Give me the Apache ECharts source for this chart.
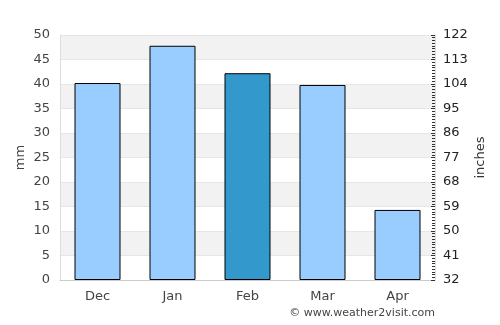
<!DOCTYPE html>
<html>
<head>
<meta charset="utf-8">
<script src="https://cdn.jsdelivr.net/npm/echarts@6/dist/echarts.min.js"></script>
<style>
  html, body { margin: 0; padding: 0; background: #fff; }
  #chart { width: 500px; height: 325px; }
</style>
</head>
<body>
<div id="chart"></div>
<script>
// rainfall by month
const months = ['Dec', 'Jan', 'Feb', 'Mar', 'Apr'];
const rainMm = [40.2, 47.8, 42.2, 39.8, 14.3];
const highlightMonth = 'Feb';
const rightLabels = [32, 41, 50, 59, 68, 77, 86, 95, 104, 113, 122];

const chart = echarts.init(document.getElementById('chart'), null, { renderer: 'canvas' });

const font = 'DejaVu Sans';

const option = {
  backgroundColor: '#fff',
  animation: false,
  grid: { left: 60, right: 65, top: 35, bottom: 45 },
  xAxis: {
    type: 'category',
    data: months,
    axisLine: { lineStyle: { color: '#ccc' } },
    axisTick: { show: false },
    axisLabel: { color: '#444', fontFamily: font, fontSize: 13, margin: 10 }
  },
  yAxis: [
    {
      type: 'value',
      min: 0, max: 50, interval: 5,
      name: 'mm',
      nameLocation: 'middle',
      nameGap: 33,
      nameMoveOverlap: false,
      nameTextStyle: { color: '#444', fontFamily: font, fontSize: 13 },
      axisLine: { show: true, lineStyle: { color: '#ddd' } },
      axisTick: { show: false },
      axisLabel: { color: '#444', fontFamily: font, fontSize: 13, margin: 10 },
      splitLine: { show: true, lineStyle: { color: '#e6e6e6' } },
      splitArea: { show: true, areaStyle: { color: ['#fff', '#f2f2f2'] } }
    },
    {
      type: 'value',
      position: 'right',
      min: 32, max: 122, interval: 9,
      name: 'inches',
      nameLocation: 'middle',
      nameGap: 39,
      nameMoveOverlap: false,
      nameRotate: 90,
      nameTextStyle: { color: '#333', fontFamily: font, fontSize: 13 },
      axisLine: { show: true, lineStyle: { color: '#ddd' } },
      axisTick: { show: true, inside: true, length: 4, lineStyle: { color: '#333' } },
      minorTick: { show: true, splitNumber: 9, length: 3, lineStyle: { color: '#333' } },
      axisLabel: {
        color: '#222', fontFamily: font, fontSize: 13, margin: 8,
        formatter: v => rightLabels.includes(v) ? String(v) : ''
      },
      splitLine: { show: false }
    }
  ],
  graphic: [
    {
      type: 'text',
      right: 65, top: 308,
      style: { text: '© www.weather2visit.com', fill: '#444', font: '11px DejaVu Sans' }
    }
  ],
  series: [
    {
      type: 'bar',
      yAxisIndex: 0,
      barWidth: 46,
      data: rainMm.map((v, i) => ({
        value: v,
        itemStyle: { color: months[i] === highlightMonth ? '#3399cc' : '#99ccff' }
      })),
      itemStyle: { borderColor: '#000', borderWidth: 1 }
    }
  ]
};

chart.setOption(option);
</script>
</body>
</html>
